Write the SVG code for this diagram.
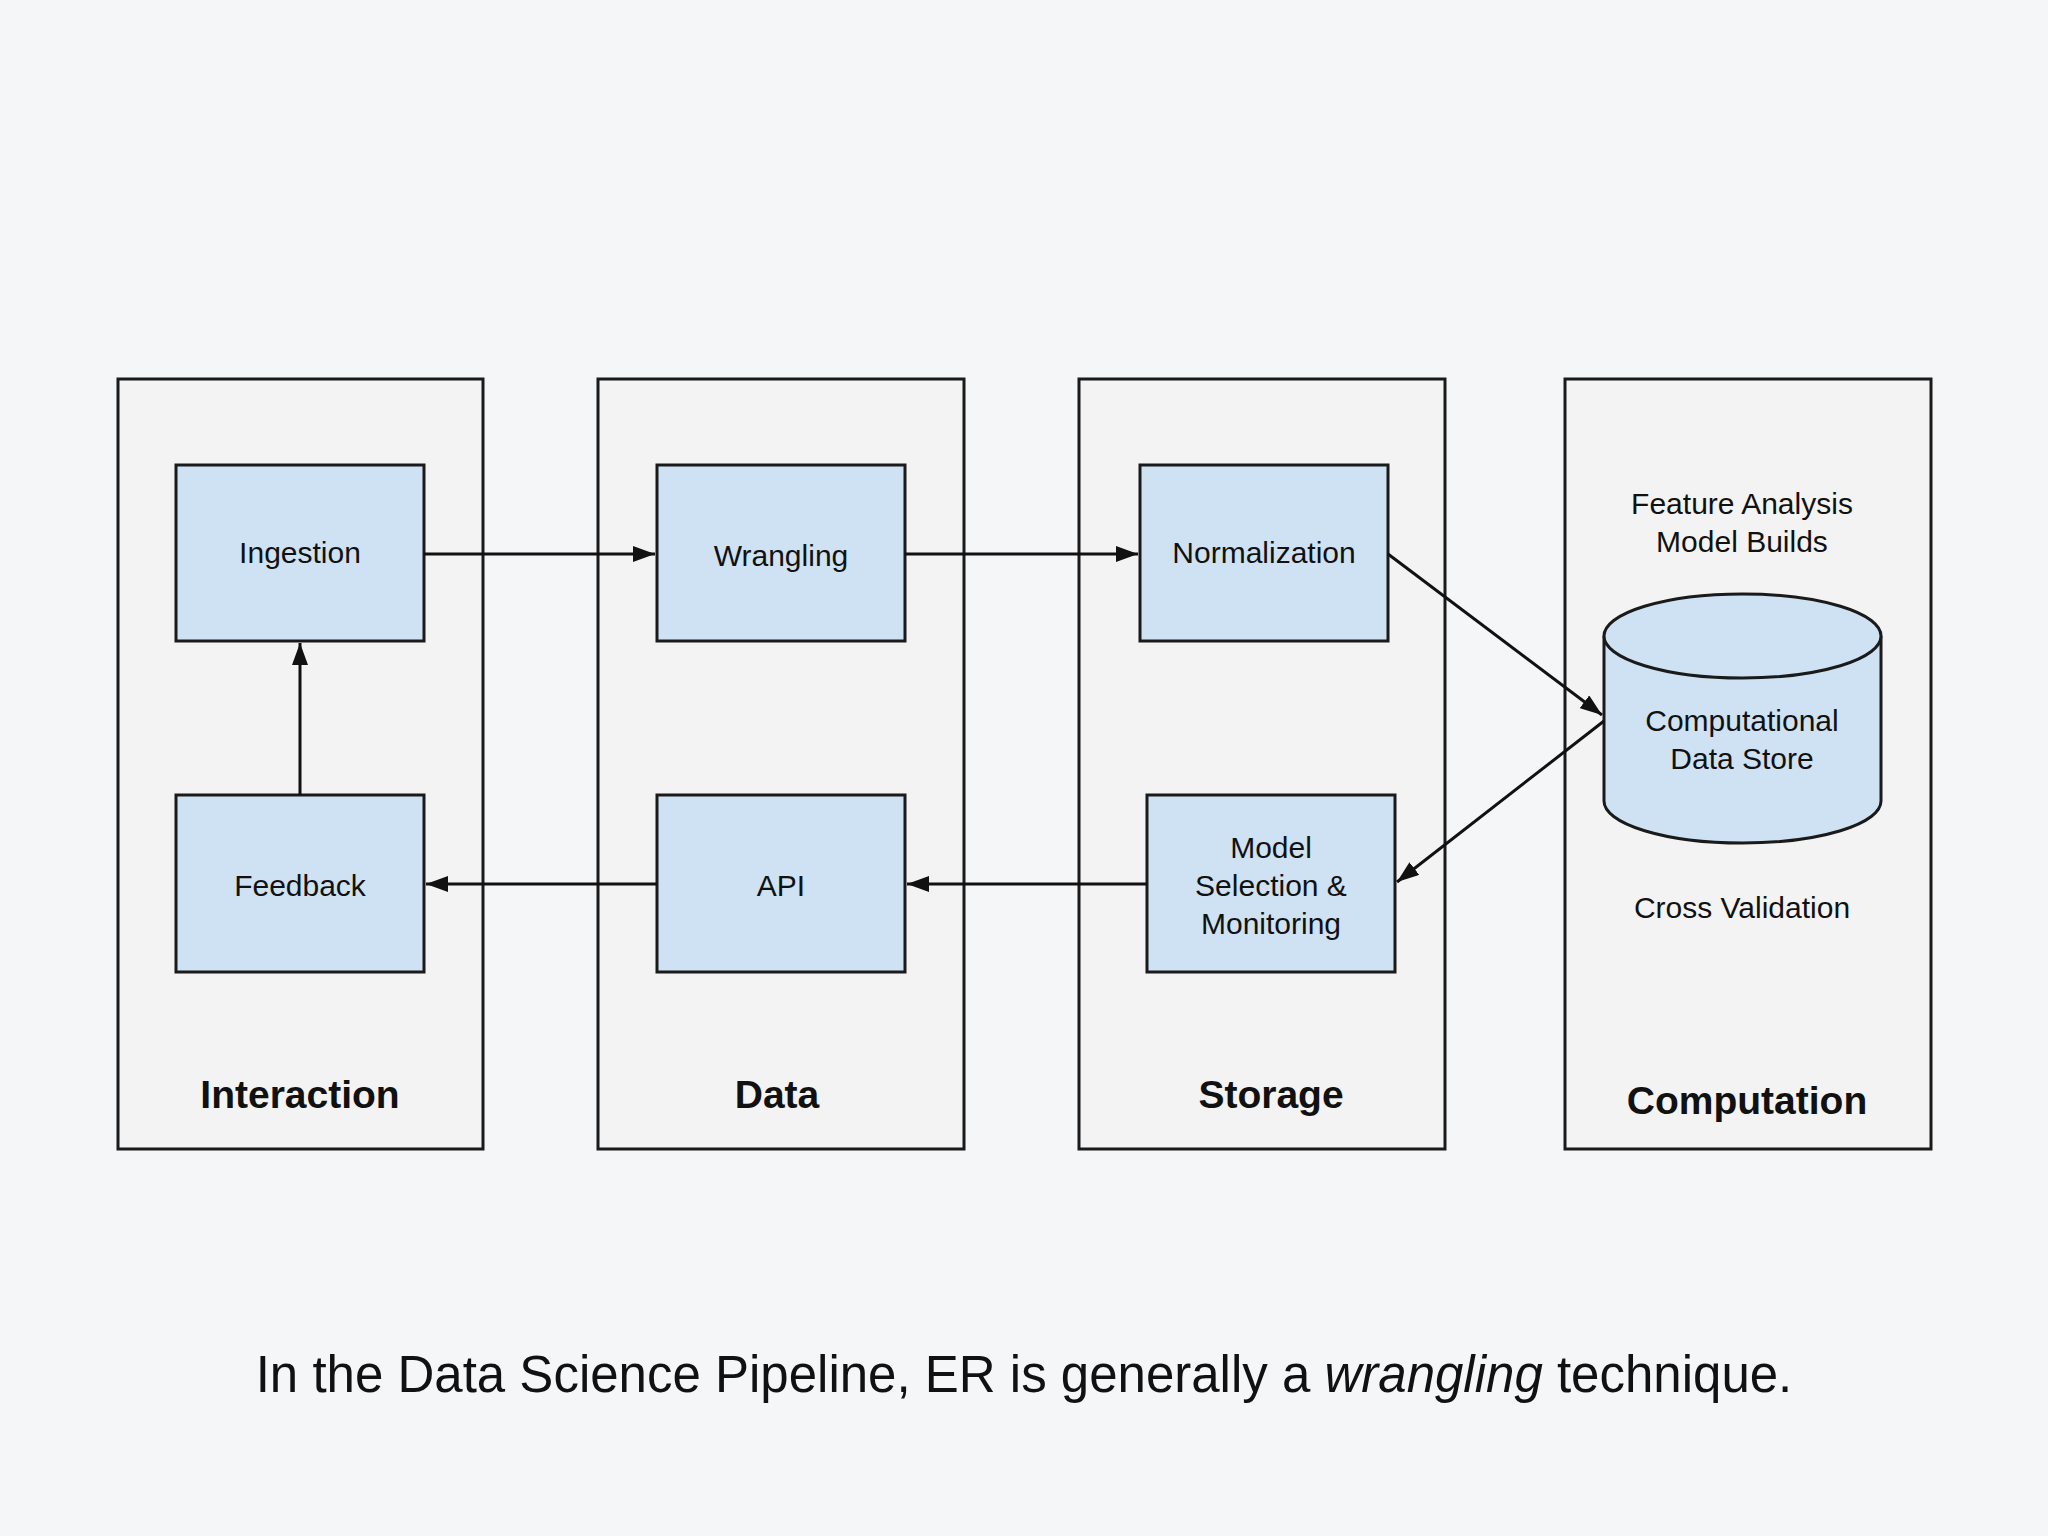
<svg xmlns="http://www.w3.org/2000/svg" width="2048" height="1536" viewBox="0 0 2048 1536">
<defs>
<style>
.panel{fill:#f3f3f3;stroke:#1a1a1a;stroke-width:3}
.box{fill:#cfe2f3;stroke:#1a1a1a;stroke-width:3}
.t{font-family:"Liberation Sans",Arial,sans-serif;font-size:30px;fill:#111;text-anchor:middle}
.h{font-family:"Liberation Sans",Arial,sans-serif;font-size:39px;font-weight:bold;fill:#111;text-anchor:middle}
.c{stroke:#111;stroke-width:3;fill:none;marker-end:url(#a)}
</style>
<marker id="a" viewBox="0 0 22 16" refX="22" refY="8" markerWidth="22" markerHeight="16" markerUnits="userSpaceOnUse" orient="auto"><path d="M0,0L22,8L0,16z" fill="#111"/></marker>
</defs>
<rect width="2048" height="1536" fill="#f5f6f8"/>
<g id="interaction"><rect class="panel" x="118" y="379" width="365" height="770"/><text class="h" x="300" y="1108">Interaction</text></g>
<g id="data"><rect class="panel" x="598" y="379" width="366" height="770"/><text class="h" x="777" y="1108">Data</text></g>
<g id="storage"><rect class="panel" x="1079" y="379" width="366" height="770"/><text class="h" x="1271" y="1108">Storage</text></g>
<g id="computation"><rect class="panel" x="1565" y="379" width="366" height="770"/><text class="h" x="1747" y="1114">Computation</text>
<text class="t" x="1742" y="514">Feature Analysis</text><text class="t" x="1742" y="552">Model Builds</text>
<text class="t" x="1742" y="918">Cross Validation</text></g>
<g id="ingestion"><rect class="box" x="176" y="465" width="248" height="176"/><text class="t" x="300" y="563">Ingestion</text></g>
<g id="wrangling"><rect class="box" x="657" y="465" width="248" height="176"/><text class="t" x="781" y="566">Wrangling</text></g>
<g id="normalization"><rect class="box" x="1140" y="465" width="248" height="176"/><text class="t" x="1264" y="563">Normalization</text></g>
<g id="feedback"><rect class="box" x="176" y="795" width="248" height="177"/><text class="t" x="300" y="896">Feedback</text></g>
<g id="api"><rect class="box" x="657" y="795" width="248" height="177"/><text class="t" x="781" y="896">API</text></g>
<g id="model"><rect class="box" x="1147" y="795" width="248" height="177"/><text class="t" x="1271" y="858">Model</text><text class="t" x="1271" y="896">Selection &amp;</text><text class="t" x="1271" y="934">Monitoring</text></g>
<g id="datastore">
<path d="M1604,636 L1604,801 A138.5,42 0 0 0 1881,801 L1881,636" fill="#cfe2f3" stroke="#1a1a1a" stroke-width="3"/>
<ellipse cx="1742.5" cy="636" rx="138.5" ry="42" fill="#cfe2f3" stroke="#1a1a1a" stroke-width="3"/>
<text class="t" x="1742" y="731">Computational</text><text class="t" x="1742" y="769">Data Store</text></g>
<g id="connectors">
<line class="c" x1="424" y1="554" x2="655" y2="554"/>
<line class="c" x1="905" y1="554" x2="1138" y2="554"/>
<line class="c" x1="1388" y1="554" x2="1602" y2="715"/>
<line class="c" x1="1604" y1="721" x2="1397" y2="882"/>
<line class="c" x1="1147" y1="884" x2="907" y2="884"/>
<line class="c" x1="657" y1="884" x2="426" y2="884"/>
<line class="c" x1="300" y1="795" x2="300" y2="643"/>
</g>
<text x="1024" y="1392" font-family="'Liberation Sans',Arial,sans-serif" font-size="51" fill="#111" text-anchor="middle">In the Data Science Pipeline, ER is generally a <tspan font-style="italic">wrangling</tspan> technique.</text>
</svg>
